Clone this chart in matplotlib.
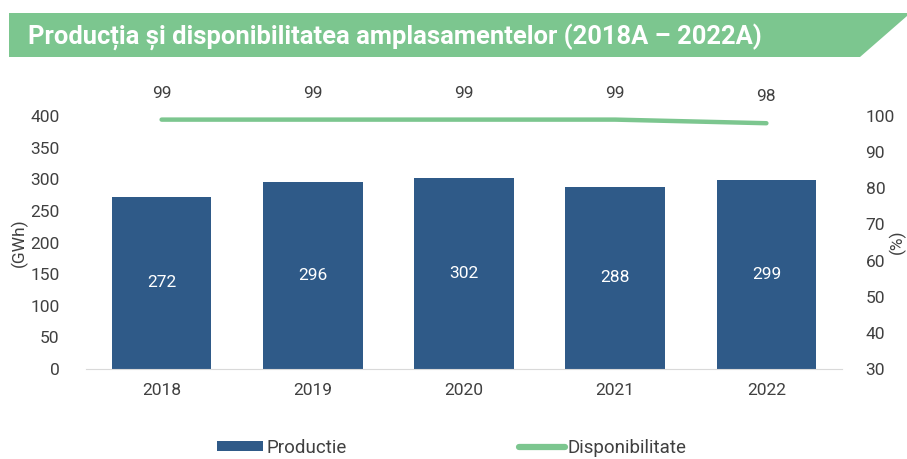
import matplotlib
matplotlib.use("Agg")
import matplotlib.pyplot as plt
from matplotlib.patches import Polygon
from matplotlib.lines import Line2D
from matplotlib.patches import Patch

years = ["2018", "2019", "2020", "2021", "2022"]
productie = [272, 296, 302, 288, 299]
disponibilitate = [99, 99, 99, 99, 98]
left_ticks = [0, 50, 100, 150, 200, 250, 300, 350, 400]
right_ticks = [30, 40, 50, 60, 70, 80, 90, 100]

BAR = "#2f5a88"
GREEN = "#7cc68f"
TXT = "#404040"
W, H = 907, 459
FS = 12.5

plt.rcParams['font.family'] = ['Roboto', 'DejaVu Sans']

fig = plt.figure(figsize=(W / 100, H / 100), dpi=100)

def fx(x): return x / W
def fy(y): return 1 - y / H

# Title banner
banner = Polygon([(fx(9), fy(13)), (fx(907), fy(13)), (fx(907), fy(16)),
                  (fx(860), fy(57)), (fx(9), fy(57))],
                 closed=True, transform=fig.transFigure, facecolor=GREEN,
                 edgecolor='none')
fig.add_artist(banner)
fig.text(fx(28), fy(37), "Producția și disponibilitatea amplasamentelor (2018A – 2022A)",
         color='white', fontsize=18.4, fontweight='bold',
         ha='left', va='center')

ax = fig.add_axes([86 / W, 90 / H, 756 / W, 253 / H])
x = list(range(len(years)))
ax.bar(x, productie, width=0.66, color=BAR, zorder=2)
for xi, v in zip(x, productie):
    ax.text(xi, v / 2, str(v), color='white', fontsize=FS, ha='center', va='center')

ax.set_xlim(-0.5, 4.5)
ax.set_ylim(0, 400)
ax.set_yticks(left_ticks)
ax.set_xticks(x)
ax.set_xticklabels(years)
for s in ['top', 'right', 'left']:
    ax.spines[s].set_visible(False)
ax.spines['bottom'].set_color('#d9d9d9')
ax.tick_params(axis='y', length=0, pad=19, labelsize=FS, labelcolor=TXT)
ax.tick_params(axis='x', length=0, pad=10, labelsize=FS, labelcolor=TXT)

ax2 = ax.twinx()
ax2.set_ylim(30, 100)
ax2.set_yticks(right_ticks)
for s in ['top', 'right', 'left', 'bottom']:
    ax2.spines[s].set_visible(False)
ax2.tick_params(axis='y', length=0, pad=17, labelsize=FS, labelcolor=TXT)
ax2.plot(x, disponibilitate, color=GREEN, lw=3.2, solid_capstyle='round', zorder=3)
for xi, v in zip(x, disponibilitate):
    ax2.annotate(str(v), (xi, v), xytext=(0, 19), textcoords='offset points',
                 ha='center', va='center', fontsize=FS, color=TXT,
                 annotation_clip=False)

fig.text(fx(19), fy(243), "(GWh)", rotation=90, fontsize=FS, color=TXT,
         ha='center', va='center')
fig.text(fx(897), fy(242), "(%)", rotation=90, fontsize=FS, color=TXT,
         ha='center', va='center')

handles = [Patch(facecolor=BAR, edgecolor='none'),
           Line2D([0], [0], color=GREEN, lw=4.5, solid_capstyle='round')]
fig.legend(handles, ["Productie", "Disponibilitate"], loc='center',
           bbox_to_anchor=(fx(452), fy(448)), ncol=2, frameon=False,
           fontsize=13.5, handlelength=2.45, handleheight=0.45, handletextpad=0.15,
           columnspacing=9.2, labelcolor=TXT, borderpad=0)

fig.savefig("out.png", dpi=100)
